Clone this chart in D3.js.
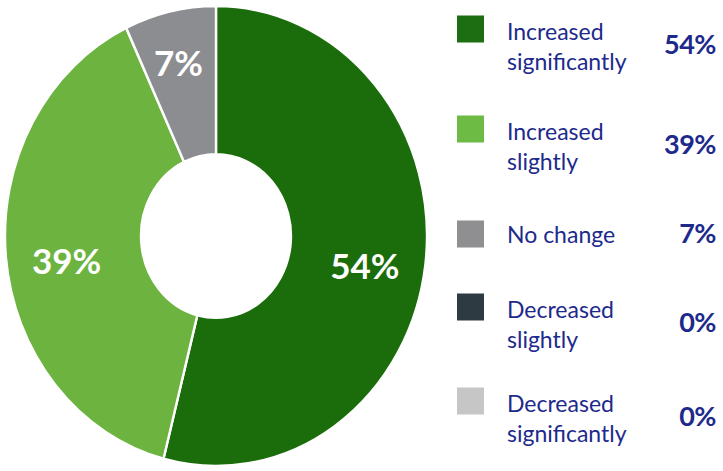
<!DOCTYPE html>
<html>
<head>
<meta charset="utf-8">
<script src="https://cdn.jsdelivr.net/npm/d3@7/dist/d3.min.js"></script>
<style>
  html, body { margin: 0; padding: 0; background: #ffffff; }
  svg { display: block; }
  text { font-family: Lato, "Open Sans", sans-serif; }
</style>
</head>
<body>
<svg id="chart" width="723" height="471"></svg>
<script>
// Survey answers: change reported by respondents
const categories = [
  "Increased significantly",
  "Increased slightly",
  "No change",
  "Decreased slightly",
  "Decreased significantly"
];
const legendLines = [
  ["Increased", "significantly"],
  ["Increased", "slightly"],
  ["No change"],
  ["Decreased", "slightly"],
  ["Decreased", "significantly"]
];
const values = [54, 39, 7, 0, 0];
const sliceColors = ["#1b6c0b", "#6cb43f", "#8c8d91", "#2e3a41", "#c6c6c6"];
const swatchColors = ["#1d6d12", "#6dba45", "#8f8f92", "#2e3a41", "#c6c6c6"];

const svg = d3.select("#chart");

// ---- donut ----
const cx = 216, cy = 236, yStretch = 1.09;
const outerR = 211, innerR = 75;

const data = categories.map((c, i) => ({ category: c, value: values[i], i }));

const pie = d3.pie()
  .value(d => d.value)
  .sort(null)
  .startAngle(0)
  .endAngle(2 * Math.PI);

const arcs = pie(data).filter(a => a.data.value > 0);

const arc = d3.arc().innerRadius(innerR).outerRadius(outerR);

const color = d3.scaleOrdinal().domain(categories).range(sliceColors);

const donut = svg.append("g")
  .attr("transform", `translate(${cx},${cy}) scale(1,${yStretch})`);

donut.selectAll("path")
  .data(arcs)
  .join("path")
  .attr("d", arc)
  .attr("fill", d => color(d.data.category))
  .attr("stroke", "#ffffff")
  .attr("stroke-width", 2.4)
  .attr("stroke-linejoin", "round");

// percentage labels inside the ring; narrow slices push their label outward
const fmt = v => `${v}%`;
svg.append("g")
  .selectAll("text")
  .data(arcs)
  .join("text")
  .each(function (d) {
    const r = d.data.value < 10 ? 172 : 150;
    const [x, y] = d3.arc().innerRadius(r).outerRadius(r).centroid(d);
    d3.select(this)
      .attr("x", cx + x)
      .attr("y", cy + y * yStretch + 10);
  })
  .attr("text-anchor", "middle")
  .attr("dy", "0.36em")
  .attr("fill", "#ffffff")
  .attr("font-size", 35)
  .attr("font-weight", 700)
  .text(d => fmt(d.data.value));

// ---- legend ----
const rowY = [29, 129, 234, 307, 401];
const swX = 457, sw = 27, textX = 507, valX = 716;
const ink = "#1d2a8c";

const legend = svg.append("g")
  .selectAll("g")
  .data(data)
  .join("g")
  .attr("transform", (d, i) => `translate(0,${rowY[i]})`);

legend.append("rect")
  .attr("x", swX)
  .attr("y", -sw / 2)
  .attr("width", sw)
  .attr("height", sw)
  .attr("fill", d => swatchColors[d.i]);

legend.each(function (d) {
  const g = d3.select(this);
  const lines = legendLines[d.i];
  const two = lines.length > 1;
  g.selectAll("text.lbl")
    .data(lines)
    .join("text")
    .attr("class", "lbl")
    .attr("x", textX)
    .attr("y", (l, k) => two ? 11 + k * 30 : 9)
    .attr("fill", ink)
    .attr("font-size", 23)
    .text(l => l);
  g.append("text")
    .attr("x", valX)
    .attr("y", two ? 25 : 9)
    .attr("text-anchor", "end")
    .attr("fill", ink)
    .attr("font-size", 27)
    .attr("font-weight", 700)
    .attr("letter-spacing", -0.5)
    .text(fmt(d.value));
});
</script>
</body>
</html>
